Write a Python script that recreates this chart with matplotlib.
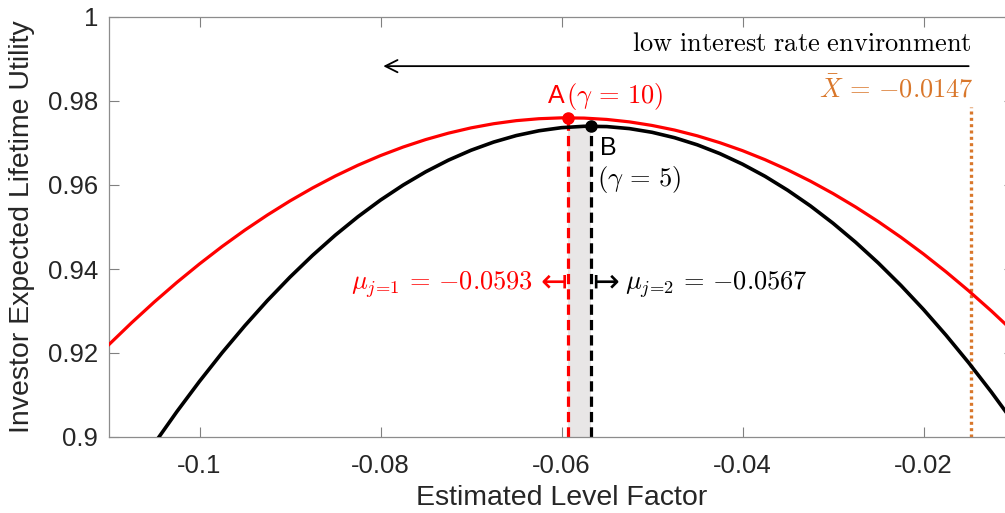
import numpy as np
import matplotlib
matplotlib.use('Agg')
import matplotlib.pyplot as plt

plt.rcParams['font.family'] = ['Liberation Sans', 'DejaVu Sans']
plt.rcParams['mathtext.fontset'] = 'cm'
plt.rcParams['axes.unicode_minus'] = False

# data
x_vals = [-0.1100, -0.1075, -0.1050, -0.1025, -0.1000, -0.0975, -0.0950, -0.0925,
          -0.0900, -0.0875, -0.0850, -0.0825, -0.0800, -0.0775, -0.0750, -0.0725,
          -0.0700, -0.0675, -0.0650, -0.0625, -0.0600, -0.0575, -0.0550, -0.0525,
          -0.0500, -0.0475, -0.0450, -0.0425, -0.0400, -0.0375, -0.0350, -0.0325,
          -0.0300, -0.0275, -0.0250, -0.0225, -0.0200, -0.0175, -0.0150, -0.0125,
          -0.0100]
u_gamma10 = [0.92202, 0.92721, 0.93214, 0.93681, 0.94121, 0.94536, 0.94924, 0.95285,
             0.95621, 0.95930, 0.96213, 0.96470, 0.96700, 0.96904, 0.97082, 0.97234,
             0.97360, 0.97459, 0.97532, 0.97578, 0.97599, 0.97593, 0.97561, 0.97503,
             0.97418, 0.97308, 0.97171, 0.97007, 0.96818, 0.96602, 0.96360, 0.96092,
             0.95797, 0.95476, 0.95129, 0.94756, 0.94357, 0.93931, 0.93479, 0.93001,
             0.92496]
u_gamma5 = [0.88196, 0.89039, 0.89841, 0.90604, 0.91325, 0.92007, 0.92647, 0.93248,
            0.93807, 0.94326, 0.94805, 0.95243, 0.95641, 0.95998, 0.96315, 0.96591,
            0.96827, 0.97022, 0.97177, 0.97291, 0.97365, 0.97398, 0.97391, 0.97343,
            0.97255, 0.97126, 0.96957, 0.96747, 0.96496, 0.96206, 0.95874, 0.95503,
            0.95090, 0.94637, 0.94144, 0.93610, 0.93036, 0.92421, 0.91766, 0.91070,
            0.90334]
mu1, u_max1 = -0.0593, 0.9760
mu2, u_max2 = -0.0567, 0.9740
x_bar = -0.0147
x_bar_top = 0.9785

xticks = [-0.1, -0.08, -0.06, -0.04, -0.02]
xtick_labels = ['-0.1', '-0.08', '-0.06', '-0.04', '-0.02']
yticks = [0.9, 0.92, 0.94, 0.96, 0.98, 1.0]
ytick_labels = ['0.9', '0.92', '0.94', '0.96', '0.98', '1']

red = '#ff0000'
orange = '#d9772b'
txt = '#262626'
fs_math = 19

fig = plt.figure(figsize=(10.05, 5.13), dpi=100)
ax = fig.add_axes([109 / 1005, 76 / 513, 905 / 1005, 420 / 513])

# shaded band between the two optima
ax.fill_between([mu1, mu2], 0.9, u_max2, color='#e8e6e6', lw=0, zorder=1)

ax.plot(x_vals, u_gamma10, color=red, lw=2.3, zorder=3)
ax.plot(x_vals, u_gamma5, color='black', lw=2.6, zorder=3)

ax.plot([mu1, mu1], [0.9, u_max1], color=red, lw=2.3, ls=(0, (3.2, 1.6)), zorder=2)
ax.plot([mu2, mu2], [0.9, u_max2], color='black', lw=2.3, ls=(0, (3.2, 1.6)), zorder=2)
ax.plot([x_bar, x_bar], [0.9, x_bar_top], color=orange, lw=2.4, ls=(0, (0.9, 1.0)), zorder=2)

ax.plot(mu1, u_max1, 'o', color=red, mec=red, ms=8, zorder=5)
ax.plot(mu2, u_max2, 'o', color='black', ms=8, zorder=5)

# annotations
ax.text(-0.0597, 0.9812, 'A', color=red, fontsize=18, ha='right', va='center')
ax.text(-0.0595, 0.9810, r'$(\gamma\,=\,10)$', color=red, fontsize=fs_math, ha='left', va='center')
ax.text(-0.0557, 0.9688, 'B', color='black', fontsize=18, ha='left', va='center')
ax.text(-0.0561, 0.9612, r'$(\gamma\,=\,5)$', color='black', fontsize=fs_math, ha='left', va='center')

ax.text(-0.0632, 0.9363, r'$\mu_{j\!=\!1}\,=\,{-}0.0593$', color=red, fontsize=fs_math,
        ha='right', va='center')
ax.text(mu1 - 0.0001, 0.9368, '↤', color=red, fontsize=23, family='DejaVu Sans',
        ha='right', va='center')
ax.text(mu2 + 0.0001, 0.9368, '↦', color='black', fontsize=23, family='DejaVu Sans',
        ha='left', va='center')
ax.text(-0.0530, 0.9363, r'$\mu_{j\!=\!2}\,=\,{-}0.0567$', color='black', fontsize=fs_math,
        ha='left', va='center')

ax.text(x_bar, 0.9936, r'$\mathrm{low\ interest\ rate\ environment}$', color='black',
        fontsize=fs_math, ha='right', va='center')
ax.annotate('', xy=(-0.0800, 0.9883), xytext=(-0.0147, 0.9883),
            arrowprops=dict(arrowstyle='->', color='black', lw=1.3,
                            mutation_scale=22))
ax.text(x_bar + 0.0002, 0.9828, r'$\bar{X}\,=\,{-}0.0147$', color=orange, fontsize=fs_math,
        ha='right', va='center')

ax.set_xlim(-0.11, -0.01)
ax.set_ylim(0.9, 1.0)
ax.set_xticks(xticks)
ax.set_xticklabels(xtick_labels)
ax.set_yticks(yticks)
ax.set_yticklabels(ytick_labels)
ax.tick_params(direction='in', length=7, width=0.8, colors='#808080', labelcolor=txt,
               labelsize=18.5, top=True, right=True)
ax.tick_params(axis='x', pad=12)
ax.tick_params(axis='y', pad=8)
for s in ax.spines.values():
    s.set_color('#8c8c8c')
    s.set_linewidth(0.9)

ax.set_xlabel('Estimated Level Factor', fontsize=20.5, color=txt, labelpad=5)
ax.set_ylabel('Investor Expected Lifetime Utility', fontsize=20.5, color=txt, labelpad=9)

fig.savefig('out.png', dpi=100)
